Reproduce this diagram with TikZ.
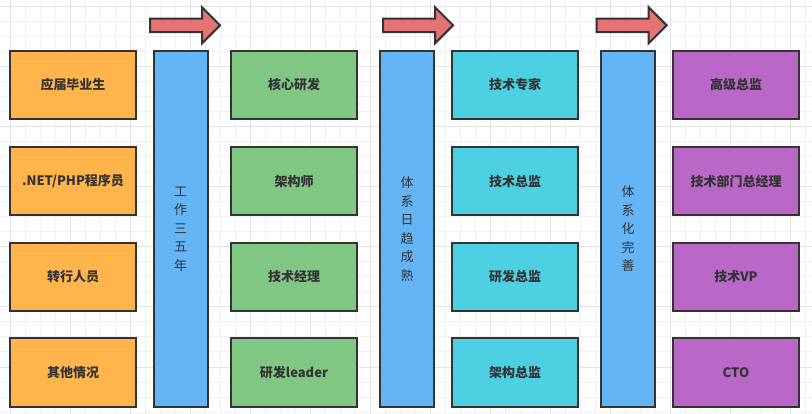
\documentclass[tikz,border=0pt]{standalone}
\usepackage{fontspec}
\usepackage{xcolor}
\usepackage{tikz}
\usetikzlibrary{shapes,shapes.arrows}
\newfontfamily\cjk{Noto Sans CJK SC}
\definecolor{edge}{HTML}{333333}
\definecolor{ink}{HTML}{333333}
\definecolor{fresh}{HTML}{FFB54C}
\definecolor{core}{HTML}{81C784}
\definecolor{expert}{HTML}{4DD0E1}
\definecolor{chief}{HTML}{BA68C8}
\definecolor{phasebg}{HTML}{64B5F6}
\definecolor{jumpbg}{HTML}{E57373}
\definecolor{gridminor}{HTML}{F1F1F1}
\definecolor{gridmajor}{HTML}{E3E3E3}
\tikzstyle{stage}=[rectangle, draw=edge,% one job title
line width=2pt, minimum width=126pt, minimum height=68pt, text=ink,
font=\cjk\bfseries\fontsize{13}{16}\selectfont]
\tikzstyle{phase}=[rectangle, draw=edge, fill=phasebg, line width=2pt,% tall bar with vertical text
minimum width=54pt, minimum height=356pt, align=center, text=ink,
font=\cjk\fontsize{13}{18.5}\selectfont]
\tikzstyle{jump}=[single arrow, draw=edge, fill=jumpbg, line width=2pt,
minimum height=70pt, minimum width=34pt, single arrow head extend=11.25pt,
inner sep=5.75pt, text height=0pt, text depth=0pt]

\begin{document}
\begin{tikzpicture}[x=1pt,y=-1pt]
\useasboundingbox (0,0) rectangle (812,414);
\fill[white] (0,0) rectangle (812,414);
\foreach \gx in {10,25,...,805} \draw[gridminor, line width=1pt] (\gx,0) -- (\gx,414);
\foreach \gy in {7,22,...,412} \draw[gridminor, line width=1pt] (0,\gy) -- (812,\gy);
\foreach \gx in {10,70,...,790} \draw[gridmajor, line width=1pt] (\gx,0) -- (\gx,414);
\foreach \gy in {7,67,...,412} \draw[gridmajor, line width=1pt] (0,\gy) -- (812,\gy);

\node[stage, fill=fresh] (o1) at (73,85) {应届毕业生};
\node[stage, fill=fresh] (o2) at (73,181.5) {.NET/PHP程序员};
\node[stage, fill=fresh] (o3) at (73,277) {转行人员};
\node[stage, fill=fresh] (o4) at (73,372.5) {其他情况};

\node[phase] (b1) at (180.5,229) {工\\作\\三\\五\\年};

\node[stage, fill=core] (g1) at (294,85) {核心研发};
\node[stage, fill=core] (g2) at (294,181.5) {架构师};
\node[stage, fill=core] (g3) at (294,277) {技术经理};
\node[stage, fill=core] (g4) at (294,372.5) {研发leader};

\node[phase] (b2) at (407,229) {体\\系\\日\\趋\\成\\熟};

\node[stage, fill=expert] (c1) at (515,85) {技术专家};
\node[stage, fill=expert] (c2) at (515,181.5) {技术总监};
\node[stage, fill=expert] (c3) at (515,277) {研发总监};
\node[stage, fill=expert] (c4) at (515,372.5) {架构总监};

\node[phase] (b3) at (628,229) {体\\系\\化\\完\\善};

\node[stage, fill=chief] (p1) at (736,85) {高级总监};
\node[stage, fill=chief] (p2) at (736,181.5) {技术部门总经理};
\node[stage, fill=chief] (p3) at (736,277) {技术VP};
\node[stage, fill=chief] (p4) at (736,372.5) {CTO};

\node[jump] (a1) at (181.7,25.3) {};
\node[jump] (a2) at (414.7,25.3) {};
\node[jump] (a3) at (628.3,25.3) {};

\end{tikzpicture}
\end{document}
